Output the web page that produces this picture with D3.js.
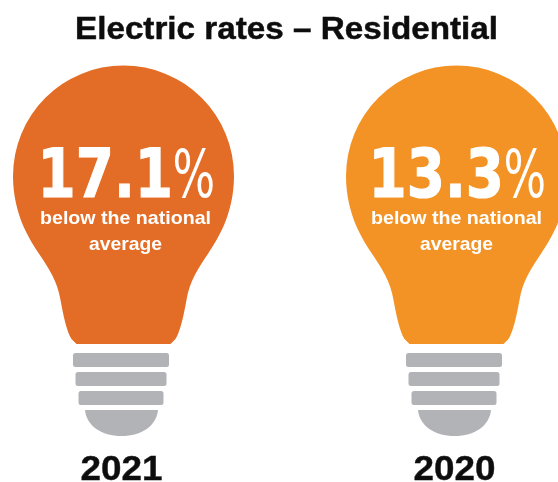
<!DOCTYPE html>
<html>
<head>
<meta charset="utf-8">
<script src="https://cdn.jsdelivr.net/npm/d3@7"></script>
<style>
  html, body { margin: 0; padding: 0; background: #fff; }
  svg { display: block; }
</style>
</head>
<body>
<svg id="vis"></svg>
<script>
var title = "Electric rates \u2013 Residential";
var years = ["2021", "2020"];
var values = [17.1, 13.3];
var colors = ["#e36d26", "#f39325"];
var captionLines = ["below the national", "average"];

var width = 558;
var height = 482;

var svg = d3.select("#vis").attr("width", width).attr("height", height);

// the source image is soft, take the edge off a little
svg.append("defs").append("filter")
  .attr("id", "soft")
  .append("feGaussianBlur")
  .attr("stdDeviation", 0.5);

var root = svg.append("g").attr("filter", "url(#soft)");

// bulb centres
var x = d3.scalePoint().domain(years).range([123.5, 456.5]);
// the text in the left bulb sits a bit right of centre
var textShift = d3.scaleOrdinal().domain(years).range([2, 0]);

root.append("text")
  .attr("x", 286.5)
  .attr("y", 39)
  .attr("text-anchor", "middle")
  .attr("font-family", "Liberation Sans")
  .attr("font-weight", "bold")
  .attr("font-size", 32)
  .attr("textLength", 423)
  .attr("lengthAdjust", "spacingAndGlyphs")
  .attr("fill", "#111")
  .attr("stroke", "#111")
  .attr("stroke-width", 0.5)
  .text(title);

// glass outline, origin at the circle centre
var bulbPath = d3.path();
bulbPath.moveTo(-47, 168);
bulbPath.lineTo(-52, 163);
bulbPath.bezierCurveTo(-57, 155, -60, 140, -63, 124);
bulbPath.bezierCurveTo(-66, 105, -75, 92, -85, 77);
bulbPath.bezierCurveTo(-92, 66, -110.5, 40, -110.5, 0);
bulbPath.arc(0, 0, 110.5, Math.PI, 2 * Math.PI);
bulbPath.bezierCurveTo(110.5, 40, 92, 66, 85, 77);
bulbPath.bezierCurveTo(75, 92, 66, 105, 63, 124);
bulbPath.bezierCurveTo(60, 140, 57, 155, 52, 163);
bulbPath.lineTo(47, 168);
bulbPath.closePath();

var bars = [
  {x: -50.5, w: 96, y: 177, h: 14},
  {x: -48, w: 91, y: 196, h: 14},
  {x: -45, w: 85, y: 215, h: 14}
];

var bulbs = root.selectAll("g.bulb")
  .data(years)
  .enter().append("g")
  .attr("class", "bulb")
  .attr("transform", function(d) { return "translate(" + x(d) + ",176)"; });

bulbs.append("path")
  .attr("d", bulbPath.toString())
  .attr("fill", function(d, i) { return colors[i]; });

bulbs.selectAll("rect")
  .data(bars)
  .enter().append("rect")
  .attr("x", function(d) { return d.x; })
  .attr("y", function(d) { return d.y; })
  .attr("width", function(d) { return d.w; })
  .attr("height", function(d) { return d.h; })
  .attr("rx", 2.5)
  .attr("fill", "#b1b3b6");

// round bottom of the base
bulbs.append("path")
  .attr("d", "M-38.5,234 L34.5,234 C33,250 18,260 -2,260 C-22,260 -37,250 -38.5,234 Z")
  .attr("fill", "#b1b3b6");

// number and % are separate, squeezed sideways to fit their widths
bulbs.append("text")
  .attr("transform", function(d) { return "translate(" + (textShift(d) - 88) + ",21) scale(0.82,1)"; })
  .attr("fill", "#fff")
  .attr("stroke", "#fff")
  .attr("stroke-width", 1.2)
  .attr("font-family", "DejaVu Sans")
  .attr("font-weight", "bold")
  .attr("font-size", 67)
  .text(function(d, i) { return values[i].toFixed(1); });

bulbs.append("text")
  .attr("transform", function(d) { return "translate(" + (textShift(d) + 47) + ",21) scale(0.68,1)"; })
  .attr("fill", "#fff")
  .attr("font-family", "DejaVu Sans")
  .attr("font-size", 66)
  .text("%");

captionLines.forEach(function(line, k) {
  bulbs.append("text")
    .attr("x", function(d) { return textShift(d); })
    .attr("y", 48 + k * 26)
    .attr("text-anchor", "middle")
    .attr("fill", "#fff")
    .attr("font-family", "Liberation Sans")
    .attr("font-weight", "bold")
    .attr("font-size", 19)
    .attr("textLength", k === 0 ? 171 : 73)
    .attr("lengthAdjust", "spacingAndGlyphs")
    .text(line);
});

bulbs.append("text")
  .attr("x", -2)
  .attr("y", 304)
  .attr("text-anchor", "middle")
  .attr("fill", "#111")
  .attr("stroke", "#111")
  .attr("stroke-width", 0.4)
  .attr("font-family", "Liberation Sans")
  .attr("font-weight", "bold")
  .attr("font-size", 35)
  .attr("textLength", 82)
  .attr("lengthAdjust", "spacingAndGlyphs")
  .text(function(d) { return d; });
</script>
</body>
</html>
